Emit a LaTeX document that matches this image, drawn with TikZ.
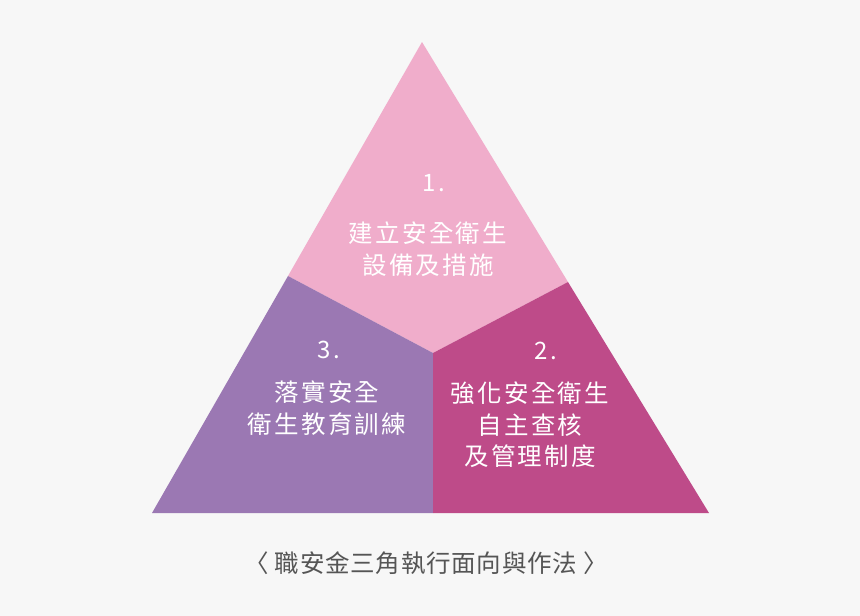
\documentclass[tikz,border=0pt]{standalone}
\usepackage{fontspec}
\setmainfont{Noto Sans CJK TC}[LetterSpace=9]
\newfontfamily\capfont{Noto Sans CJK TC}[LetterSpace=3]
\definecolor{bgc}{HTML}{F7F7F7}
\definecolor{toppink}{HTML}{F0ADCB}
\definecolor{leftpurple}{HTML}{9B78B3}
\definecolor{rightmag}{HTML}{BE4B89}
\definecolor{capgray}{HTML}{555555}
\tikzset{
  lbl/.style={text=white, align=center, inner sep=0pt, font=\fontsize{24.5}{31.5}\selectfont},
  num/.style={text=white, inner sep=0pt, font=\fontsize{24}{26}\selectfont},
}
\begin{document}
\begin{tikzpicture}[x=1pt,y=-1pt]
\fill[bgc] (0,0) rectangle (860,616);
\useasboundingbox (0,0) rectangle (860,616);
\coordinate (A) at (422,42);
\coordinate (BL) at (152,513);
\coordinate (BR) at (709,513);
\coordinate (L) at (288,276);
\coordinate (R) at (568,282);
\coordinate (C) at (433,353);
\coordinate (M) at (433,513);
\fill[toppink] (A) -- (R) -- (C) -- (L) -- cycle;
\fill[leftpurple] (L) -- (C) -- (M) -- (BL) -- cycle;
\fill[rightmag] (C) -- (R) -- (BR) -- (M) -- cycle;
\node[num] (n1) at (434,183) {1.};
\node[lbl] (t1) at (428,249) {建立安全衛生\\設備及措施};
\node[num] (n3) at (329,350) {3.};
\node[lbl] (t3) at (327,408) {落實安全\\衛生教育訓練};
\node[num] (n2) at (546,351) {2.};
\node[lbl] (t2) at (530,425) {強化安全衛生\\自主查核\\及管理制度};
\node[text=capgray, inner sep=0pt, font=\capfont\fontsize{24.5}{26}\selectfont] (cap) at (426,563) {〈\hspace{6pt}職安金三角執行面向與作法\hspace{6pt}〉};
\end{tikzpicture}
\end{document}
